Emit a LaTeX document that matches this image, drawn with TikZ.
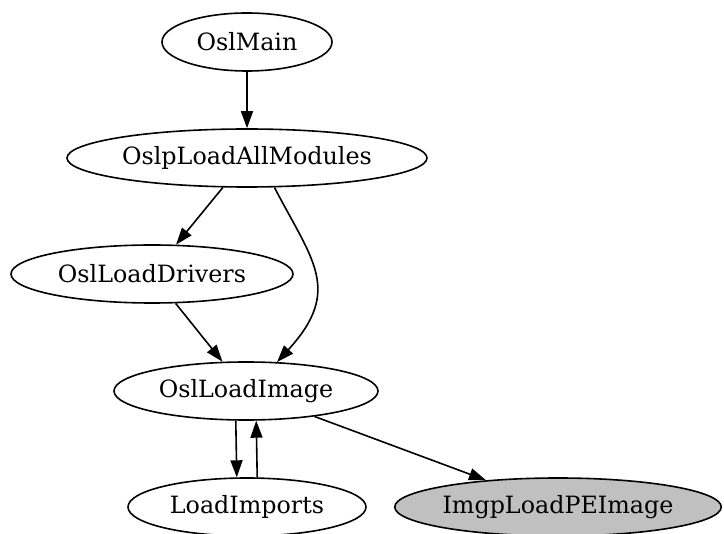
\documentclass[tikz,border=0pt]{standalone}
\usepackage{fontspec}
\setmainfont{DejaVu Serif}
\usetikzlibrary{shapes.geometric,arrows.meta}
\definecolor{nodegray}{HTML}{C0C0C0}
\begin{document}
\begin{tikzpicture}[x=1pt,y=-1pt,
  gnode/.style={draw=black, line width=1.6pt, ellipse, inner sep=0pt,
    minimum height=58pt, font=\fontsize{23.8}{28}\selectfont},
  edge/.style={draw=black, line width=1.6pt, -{Triangle[length=17pt,width=12pt]}}]
\useasboundingbox (0,0) rectangle (724,534);
\node[gnode, minimum width=170pt] (M) at (247,42) {OslMain};
\node[gnode, minimum width=360pt] (A) at (247,158) {OslpLoadAllModules};
\node[gnode, minimum width=282pt] (D) at (152,274) {OslLoadDrivers};
\node[gnode, minimum width=264pt] (I) at (246,391) {OslLoadImage};
\node[gnode, minimum width=238pt] (L) at (247,507) {LoadImports};
\node[gnode, minimum width=322pt, fill=nodegray] (P) at (558,507) {ImgpLoadPEImage};
\draw[edge] (M) -- (A);
\draw[edge] (A) -- (D);
\draw[edge] (A.-47) .. controls (312,260) and (343,290) .. (I.43);
\draw[edge] (D) -- (I);
\draw[edge] (I.-109) -- (L.109);
\draw[edge] (L.71) -- (I.-71);
\draw[edge] (I) -- (P);
\end{tikzpicture}
\end{document}
